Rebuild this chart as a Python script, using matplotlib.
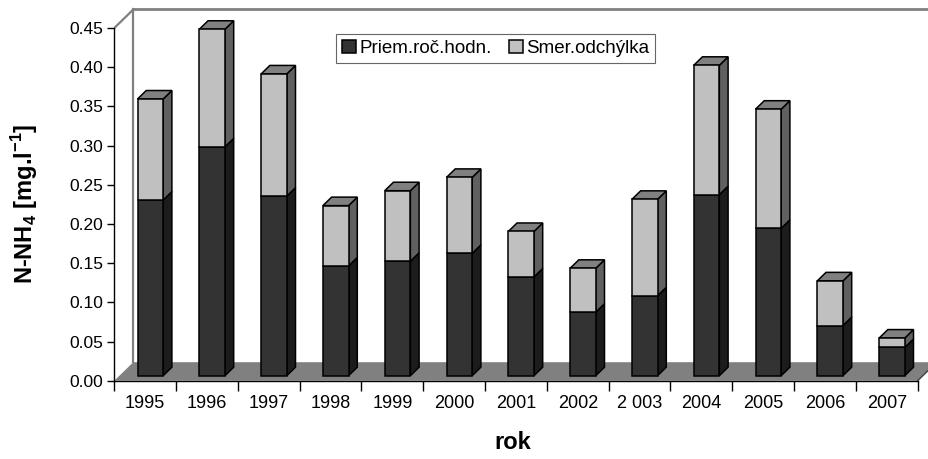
import matplotlib
matplotlib.use('Agg')
import matplotlib.pyplot as plt
from matplotlib.patches import Polygon
import numpy as np

plt.rcParams['font.family'] = ['Liberation Sans', 'DejaVu Sans']
plt.rcParams['mathtext.fontset'] = 'custom'
plt.rcParams['mathtext.rm'] = 'Liberation Sans'
plt.rcParams['mathtext.bf'] = 'Liberation Sans:bold'

# Data
years = ['1995', '1996', '1997', '1998', '1999', '2000', '2001',
         '2002', '2 003', '2004', '2005', '2006', '2007']
mean_vals = [0.224, 0.292, 0.229, 0.140, 0.146, 0.156, 0.126,
             0.081, 0.102, 0.231, 0.188, 0.064, 0.036]
std_vals = [0.129, 0.150, 0.156, 0.077, 0.090, 0.097, 0.058,
            0.056, 0.123, 0.165, 0.152, 0.057, 0.012]
y_ticks = [0.00, 0.05, 0.10, 0.15, 0.20, 0.25, 0.30, 0.35, 0.40, 0.45]

# Colours (Excel grey 3D style)
DARK_FRONT, DARK_SIDE = '#333333', '#1c1c1c'
LIGHT_FRONT, LIGHT_SIDE = '#c0c0c0', '#606060'
TOP_COLOR = '#808080'
FLOOR_COLOR = '#808080'
WALL_COLOR = '#808080'

W, H = 929, 459
fig = plt.figure(figsize=(W / 100, H / 100), dpi=100)

# Axes geometry in pixels
x0_px, y0_px = 114.3, 380.7      # origin of the front axes
px_per_cat = 61.8
px_per_unit = 783.8
ax = fig.add_axes([x0_px / W, (H - y0_px) / H, (W - x0_px) / W, y0_px / H])
ax.set_xlim(0, (W - x0_px) / px_per_cat)
ax.set_ylim(0, y0_px / px_per_unit)

n = len(years)
ymax = y_ticks[-1]
# depth offset of the back wall (in data units)
Dx = 19 / px_per_cat
Dy = 18.5 / px_per_unit

# Floor
ax.add_patch(Polygon([(0, 0), (n, 0), (n + Dx, Dy), (Dx, Dy)],
                     closed=True, facecolor=FLOOR_COLOR, edgecolor='none', zorder=1))
ax.plot([n, n + Dx], [0, Dy], color='#404040', lw=1, zorder=1.5)
# Back wall outline
ax.plot([Dx, Dx], [Dy, ymax + Dy], color=WALL_COLOR, lw=1.6, zorder=1)
ax.plot([Dx, n + Dx + 1], [ymax + Dy, ymax + Dy], color=WALL_COLOR, lw=2, zorder=1)
ax.plot([0, Dx], [ymax, ymax + Dy], color=WALL_COLOR, lw=1.6, zorder=1)

# Bars
w = 0.415
f0, f1 = 0.27, 0.73
x = np.arange(n) + 0.5
mean_arr = np.array(mean_vals)
std_arr = np.array(std_vals)

ax.bar(x + f0 * Dx, mean_arr, width=w, bottom=f0 * Dy, color=DARK_FRONT,
       edgecolor='black', linewidth=1.1, zorder=3, label='Priem.roč.hodn.')
ax.bar(x + f0 * Dx, std_arr, width=w, bottom=mean_arr + f0 * Dy, color=LIGHT_FRONT,
       edgecolor='black', linewidth=1.1, zorder=3, label='Smer.odchýlka')

for i in range(n):
    xr = x[i] + w / 2
    xl = x[i] - w / 2
    segs = [(0, mean_vals[i], DARK_SIDE),
            (mean_vals[i], mean_vals[i] + std_vals[i], LIGHT_SIDE)]
    for b, t, c in segs:
        side = [(xr + f0 * Dx, b + f0 * Dy), (xr + f1 * Dx, b + f1 * Dy),
                (xr + f1 * Dx, t + f1 * Dy), (xr + f0 * Dx, t + f0 * Dy)]
        ax.add_patch(Polygon(side, closed=True, facecolor=c, edgecolor='black',
                             linewidth=1.1, zorder=2.5))
    t = mean_vals[i] + std_vals[i]
    top = [(xl + f0 * Dx, t + f0 * Dy), (xr + f0 * Dx, t + f0 * Dy),
           (xr + f1 * Dx, t + f1 * Dy), (xl + f1 * Dx, t + f1 * Dy)]
    ax.add_patch(Polygon(top, closed=True, facecolor=TOP_COLOR, edgecolor='black',
                         linewidth=1.1, zorder=2.5))

# Axes / ticks
for s in ['top', 'right']:
    ax.spines[s].set_visible(False)
ax.spines['left'].set_bounds(0, ymax)
ax.spines['bottom'].set_bounds(0, n)
ax.spines['left'].set_linewidth(1.0)
ax.spines['bottom'].set_linewidth(1.0)
ax.set_yticks(y_ticks)
ax.set_yticklabels([f'{v:.2f}' for v in y_ticks], fontsize=12.5)
ax.tick_params(axis='y', length=5, width=1, pad=3)
ax.set_xticks(x)
ax.set_xticklabels(years, fontsize=13)
ax.set_xticks(np.arange(n + 1), minor=True)
ax.tick_params(axis='x', which='major', length=0, pad=10)
ax.tick_params(axis='x', which='minor', length=7, width=1)

ax.set_ylabel(r'N-NH$_\mathbf{4}$ [mg.l$^\mathbf{-1}$]', fontsize=17,
              fontweight='bold')
ax.set_xlabel('rok', fontsize=17, fontweight='bold')
ax.xaxis.set_label_coords((513 - x0_px) / (W - x0_px), -(431 - y0_px) / y0_px)
ax.yaxis.set_label_coords(-(x0_px - 40) / (W - x0_px), (y0_px - 204) / y0_px)

leg = fig.legend(loc='upper left', bbox_to_anchor=(336 / W, 1 - 34 / H), ncol=2,
                 fontsize=13.5, frameon=True, fancybox=False, handlelength=0.75,
                 handleheight=0.75, handletextpad=0.2, columnspacing=0.9,
                 borderpad=0.3, borderaxespad=0)
leg.get_frame().set_edgecolor('#404040')
leg.get_frame().set_linewidth(0.8)

fig.savefig('out.png', dpi=100, facecolor='white')
